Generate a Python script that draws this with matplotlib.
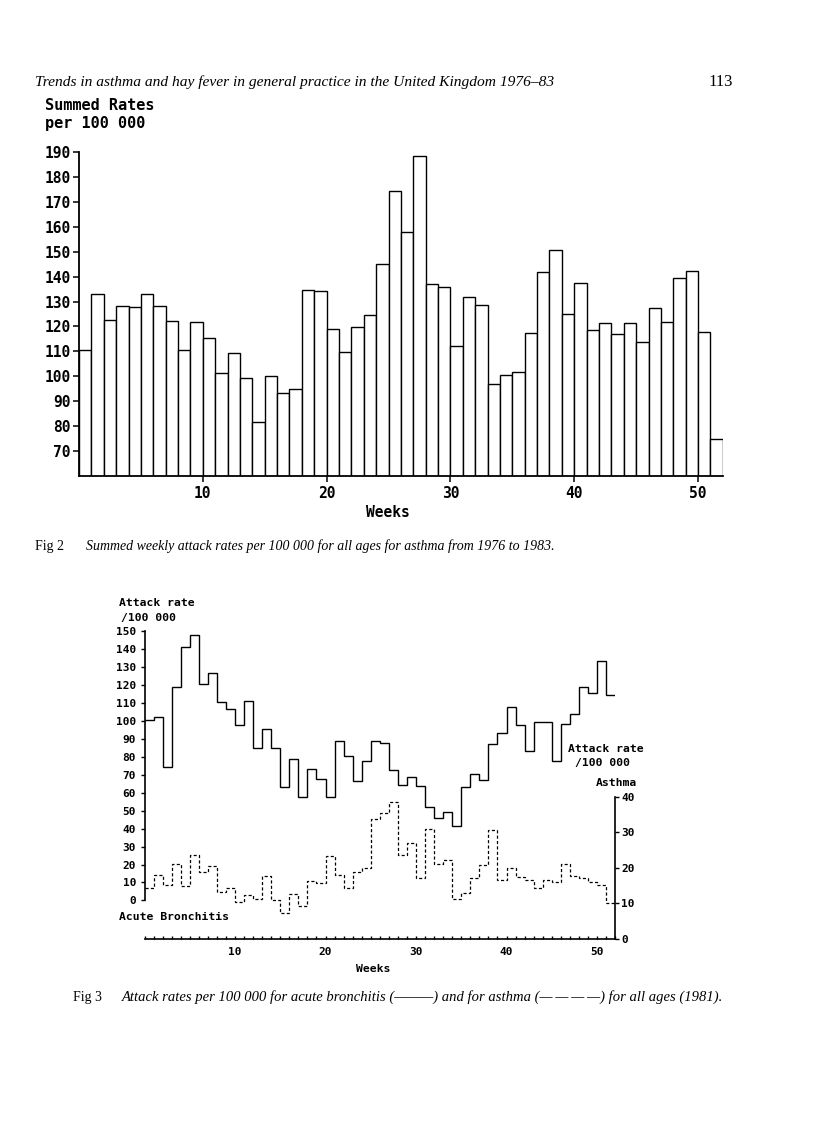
import matplotlib.pyplot as plt
import numpy as np
from matplotlib.ticker import MultipleLocator

W, H = 816, 1121

# Fig 2: summed weekly attack rates per 100 000, weeks 1..52
weeks = np.arange(1, 53)
summed_rates = [110.5, 133, 122.6, 128.3, 127.8, 133, 128.2, 122.3, 110.5, 121.9,
                115.3, 101.3, 109.3, 99.2, 81.6, 100.2, 93.1, 94.8, 134.8, 134.1,
                119.1, 109.8, 119.9, 124.7, 145, 174.6, 157.8, 188.4, 136.9, 135.8,
                112.1, 131.9, 128.7, 96.8, 100.6, 101.8, 117.2, 141.7, 150.7, 125,
                137.4, 118.7, 121.5, 116.8, 121.5, 113.7, 127.4, 121.8, 139.3, 142.4,
                117.7, 74.8]

# Fig 3: 1981 weekly attack rates per 100 000
bronchitis = [100.6, 102, 74.1, 118.9, 141.1, 147.8, 120.7, 126.7, 110.7, 106.5,
              98, 111.1, 85.2, 95.4, 85.2, 63, 78.8, 57.4, 73.2, 67.6,
              57.8, 88.7, 80.3, 66.3, 77.5, 88.7, 87.7, 72.9, 64.3, 68.6,
              63.5, 51.8, 45.7, 49.1, 41.6, 63.0, 70.4, 66.9, 87.4, 93.3,
              107.7, 98.0, 83.1, 99.3, 99.7, 77.9, 98.5, 103.9, 118.8, 115.6,
              133.3, 114.3]
asthma = [14.2, 18.1, 15.2, 21.1, 14.8, 23.6, 18.8, 20.6, 13.2, 14.4,
          10.5, 12.3, 11.2, 17.8, 10.9, 7.3, 12.7, 9.3, 16.3, 15.8,
          23.3, 17.9, 14.4, 18.8, 19.9, 33.7, 35.3, 38.4, 23.5, 27.0,
          17.0, 31.0, 21.1, 22.3, 11.2, 13.0, 17.0, 20.9, 30.7, 16.7,
          20.0, 17.5, 16.7, 14.4, 16.7, 16.0, 21.2, 17.7, 17.2, 16.0,
          15.2, 10.2]

MONO = "DejaVu Sans Mono"
SERIF = "Liberation Serif"


def fx(px):
    return px / W


def fy(py):
    return 1 - py / H


def box(left, top, right, bottom):
    return [fx(left), fy(bottom), (right - left) / W, (bottom - top) / H]


fig = plt.figure(figsize=(W / 100, H / 100), dpi=100)

# page header
fig.text(fx(35), fy(86), "Trends in asthma and hay fever in general practice in the United Kingdom 1976\u201383",
         family=SERIF, style="italic", fontsize=11.15, va="baseline")
fig.text(fx(733), fy(86), "113", family=SERIF, fontsize=12, ha="right", va="baseline")

# ---- Fig 2 ----
ax1 = fig.add_axes(box(79, 152.3, 722.8, 475.7))
ax1.bar(weeks - 1, summed_rates, width=1, align="edge",
        facecolor="white", edgecolor="black", linewidth=1.0)
ax1.set_xlim(0, 52)
ax1.set_ylim(60, 190)
ax1.set_yticks(range(70, 200, 10))
ax1.set_xticks([10, 20, 30, 40, 50])
for s in ["top", "right"]:
    ax1.spines[s].set_visible(False)
for s in ["left", "bottom"]:
    ax1.spines[s].set_linewidth(1.3)
ax1.tick_params(axis="y", direction="out", length=4.5, width=1.1, pad=1.5)
ax1.tick_params(axis="x", direction="out", length=4.5, width=1.1, pad=3)
for lab in ax1.get_yticklabels() + ax1.get_xticklabels():
    lab.set_family(MONO)
    lab.set_fontweight("bold")
    lab.set_fontsize(10.5)

big = dict(family=MONO, fontsize=11, fontweight="bold", va="baseline")
fig.text(fx(45), fy(110), "Summed Rates", **big)
fig.text(fx(45), fy(128.3), "per 100 000", **big)
fig.text(fx(388), fy(517), "Weeks", family=MONO, fontsize=10.5, fontweight="bold",
         ha="center", va="baseline")

fig.text(fx(35), fy(550), "Fig 2", family=SERIF, fontsize=10, va="baseline")
fig.text(fx(86), fy(550), "Summed weekly attack rates per 100 000 for all ages for asthma from 1976 to 1983.",
         family=SERIF, style="italic", fontsize=10, va="baseline")

# ---- Fig 3 ----
edges = np.arange(0, 53)
ax2 = fig.add_axes(box(144.5, 631.3, 615.1, 939))
ax2.stairs(bronchitis, edges, baseline=None, color="black", linewidth=1.0)
ax2.set_xlim(0, 52)
ax2.set_ylim(-21.5, 150)
ax2.set_yticks(range(0, 160, 10))
ax2.set_xticks([10, 20, 30, 40, 50])
ax2.xaxis.set_minor_locator(MultipleLocator(1))
ax2.spines["top"].set_visible(False)
ax2.spines["right"].set_visible(False)
ax2.spines["left"].set_bounds(0, 150)
for s in ["left", "bottom"]:
    ax2.spines[s].set_linewidth(1.2)
ax2.tick_params(axis="y", direction="out", length=3, width=1, pad=3)
ax2.tick_params(axis="x", which="both", direction="in", length=2.5, width=1, pad=6)

ax2r = ax2.twinx()
ax2r.stairs(asthma, edges, baseline=None, color="black", linewidth=0.9,
            linestyle=(0, (2.5, 1.8)))
ax2r.set_ylim(0, (939 - 631.3) / 3.56)
ax2r.set_yticks([0, 10, 20, 30, 40])
for s in ["top", "left", "bottom"]:
    ax2r.spines[s].set_visible(False)
ax2r.spines["right"].set_bounds(0, 40)
ax2r.spines["right"].set_linewidth(1.2)
ax2r.tick_params(axis="y", direction="out", length=3, width=1, pad=1.5)

for lab in ax2.get_yticklabels() + ax2.get_xticklabels() + ax2r.get_yticklabels():
    lab.set_family(MONO)
    lab.set_fontweight("bold")
    lab.set_fontsize(8)

small = dict(family=MONO, fontweight="bold", fontsize=8.2, va="baseline")
fig.text(fx(119), fy(606), "Attack rate", **small)
fig.text(fx(121), fy(620.7), "/100 000", **small)
fig.text(fx(119), fy(920), "Acute Bronchitis", **small)
fig.text(fx(568), fy(751.7), "Attack rate", **small)
fig.text(fx(575), fy(766), "/100 000", **small)
fig.text(fx(637), fy(786), "Asthma", ha="right", **small)
fig.text(fx(373), fy(972.3), "Weeks", ha="center", **small)

fig.text(fx(73), fy(1001), "Fig 3", family=SERIF, fontsize=10, va="baseline")
fig.text(fx(122), fy(1001),
         "Attack rates per 100 000 for acute bronchitis (\u2014\u2014\u2014) and for asthma "
         "(\u2014\u2009\u2014\u2009\u2014\u2009\u2014) for all ages (1981).",
         family=SERIF, style="italic", fontsize=10.55, va="baseline")

fig.savefig("out.png", dpi=100)
